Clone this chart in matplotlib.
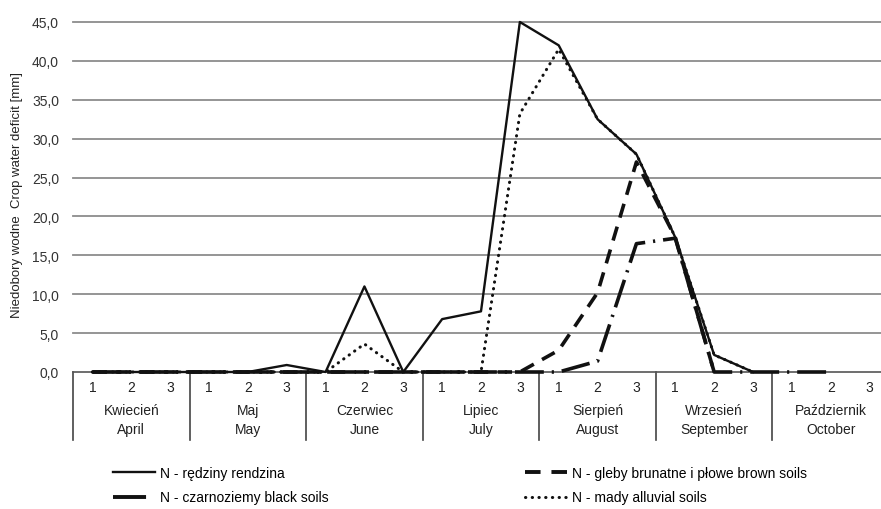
import matplotlib.pyplot as plt
from matplotlib.lines import Line2D
import numpy as np

plt.rcParams['font.family'] = ['Liberation Sans', 'DejaVu Sans']

months_pl = ['Kwiecień', 'Maj', 'Czerwiec', 'Lipiec', 'Sierpień', 'Wrzesień', 'Październik']
months_en = ['April', 'May', 'June', 'July', 'August', 'September', 'October']
decades = ['1', '2', '3']

# water deficit [mm] per decade, April 1 .. October 3
rendzina = [0, 0, 0, 0, 0, 0.9, 0, 11.0, 0, 6.8, 7.8, 45.0, 42.0, 32.5, 28.0, 17.3, 2.2, 0, None, None, None]
brown = [0, 0, 0, 0, 0, 0, 0, 0, 0, 0, 0, 0, 2.8, 10.2, 27.0, 17.3, 0, None, None, None, None]
black = [0, 0, 0, 0, 0, 0, 0, 0, 0, 0, 0, 0, 0, 1.4, 16.5, 17.2, 0, 0, 0, 0, None]
alluvial = [0, 0, 0, 0, 0, 0, 0, 3.6, 0, 0, 0, 33.2, 41.5, 32.5, 28.0, 17.3, 2.2, 0, None, None, None]


def arr(v):
    return np.array([np.nan if x is None else x for x in v], dtype=float)


x = np.arange(21)

fig = plt.figure(figsize=(8.81, 5.10), dpi=100)
ax = fig.add_axes([73 / 881, 1 - 373 / 510, 816 / 881, 350 / 510])
ax.set_xlim(-0.5, 20.5)
ax.set_ylim(0, 45)

yt = np.arange(0, 46, 5)
for v in yt[1:]:
    ax.axhline(v, color='#8c8c8c', lw=1.3, zorder=1, clip_on=False)
ax.set_yticks(yt)
ax.set_yticklabels([f'{v:.1f}'.replace('.', ',') for v in yt], fontsize=10, color='#333333')
ax.tick_params(axis='y', length=0, pad=10)
ax.set_xticks([])
for s in ['left', 'right', 'top']:
    ax.spines[s].set_visible(False)
ax.spines['bottom'].set_color('#555555')
ax.spines['bottom'].set_linewidth(1.2)

ls_brown = (0, (4, 2.6))
ls_black = (0, (8, 2.2, 0.6, 2.2))
ls_dot = (0, (0.1, 2.1))

ax.plot(x, arr(black), color='#111111', lw=2.6, ls=ls_black, zorder=3, clip_on=False)
ax.plot(x, arr(brown), color='#111111', lw=2.6, ls=ls_brown, zorder=3, clip_on=False)
ax.plot(x, arr(alluvial), color='#111111', lw=2.2, ls=ls_dot, dash_capstyle='round', zorder=4, clip_on=False)
ax.plot(x, arr(rendzina), color='#111111', lw=1.7, zorder=5, clip_on=False)

# category table under the axis
for k in range(8):
    ax.plot([k * 3 - 0.5, k * 3 - 0.5], [0, -8.7], color='#444444', lw=1.2, clip_on=False)
for i in x:
    ax.text(i, -1.95, decades[i % 3], ha='center', va='center', fontsize=10, color='#222222')
for m in range(7):
    ax.text(m * 3 + 1, -4.9, months_pl[m], ha='center', va='center', fontsize=10, color='#222222')
    ax.text(m * 3 + 1, -7.3, months_en[m], ha='center', va='center', fontsize=10, color='#222222')

fig.text(17 / 881, 1 - 195 / 510, 'Niedobory wodne  Crop water deficit [mm]', rotation=90,
         ha='center', va='center', fontsize=9.5, color='#222222')

h_rendzina = Line2D([], [], color='#111111', lw=1.7)
h_black = Line2D([], [], color='#111111', lw=2.8, ls=(0, (8.5, 20)))
h_brown = Line2D([], [], color='#111111', lw=2.8, ls=(0, (4.0, 2.8)))
h_alluvial = Line2D([], [], color='#111111', lw=2.2, ls=ls_dot, dash_capstyle='round')

leg_kw = dict(frameon=False, fontsize=10, handlelength=3.0, handletextpad=0.4,
              labelspacing=0.75, borderpad=0, borderaxespad=0)
fig.legend([h_rendzina, h_black], ['N - rędziny rendzina', 'N - czarnoziemy black soils'],
           loc='upper left', bbox_to_anchor=(113 / 881, 1 - 467 / 510), **leg_kw)
fig.legend([h_brown, h_alluvial], ['N - gleby brunatne i płowe brown soils', 'N - mady alluvial soils'],
           loc='upper left', bbox_to_anchor=(525 / 881, 1 - 467 / 510), **leg_kw)

fig.savefig('out.png', dpi=100)
